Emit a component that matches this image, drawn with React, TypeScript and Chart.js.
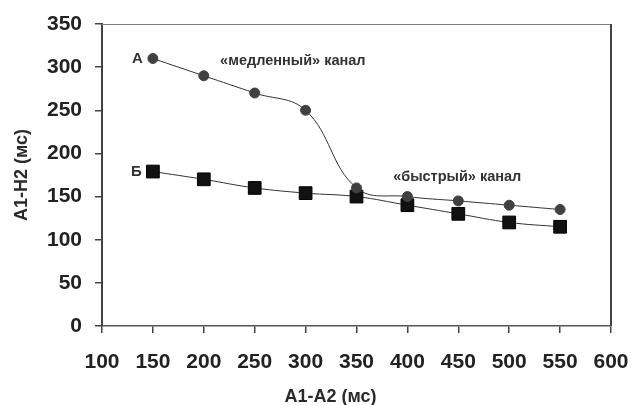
import React, { useEffect, useRef } from "react";
import { Chart, registerables } from "chart.js";

Chart.register(...registerables);

const xValues = [150, 200, 250, 300, 350, 400, 450, 500, 550];
const seriesA = [310, 290, 270, 250, 160, 150, 145, 140, 135];
const seriesB = [179, 170, 160, 154, 150, 140, 130, 120, 115];
const xTitle = "А1-А2 (мс)";
const yTitle = "А1-Н2 (мс)";
const seriesALabel = "А";
const seriesBLabel = "Б";
const slowLabel = { text: "«медленный» канал", x: 216, y: 307 };
const fastLabel = { text: "«быстрый» канал", x: 386, y: 173 };

const FONT = "'Liberation Sans', Arial, sans-serif";

const overlayPlugin = {
  id: "overlay",
  afterDraw(chart: any) {
    const { ctx, chartArea, scales } = chart;
    const xs = scales.x;
    const ys = scales.y;
    ctx.save();
    // frame top & right
    ctx.strokeStyle = "#808080";
    ctx.lineWidth = 1;
    ctx.beginPath();
    ctx.moveTo(chartArea.left, chartArea.top + 0.5);
    ctx.lineTo(chartArea.right, chartArea.top + 0.5);
    ctx.stroke();
    ctx.strokeStyle = "#444";
    ctx.lineWidth = 2;
    ctx.beginPath();
    ctx.moveTo(chartArea.right, chartArea.top);
    ctx.lineTo(chartArea.right, chartArea.bottom);
    ctx.stroke();

    // series labels
    ctx.fillStyle = "#333";
    ctx.font = `bold 15px ${FONT}`;
    ctx.textAlign = "right";
    ctx.textBaseline = "middle";
    ctx.fillText(seriesALabel, xs.getPixelForValue(xValues[0]) - 10, ys.getPixelForValue(seriesA[0]));
    ctx.fillText(seriesBLabel, xs.getPixelForValue(xValues[0]) - 11, ys.getPixelForValue(seriesB[0]));

    ctx.font = `bold 14.5px ${FONT}`;
    ctx.textAlign = "left";
    ctx.fillText(slowLabel.text, xs.getPixelForValue(slowLabel.x), ys.getPixelForValue(slowLabel.y));
    ctx.fillText(fastLabel.text, xs.getPixelForValue(fastLabel.x), ys.getPixelForValue(fastLabel.y));

    // axis titles
    ctx.fillStyle = "#2a2a2a";
    ctx.font = `bold 18px ${FONT}`;
    ctx.textAlign = "center";
    ctx.fillText(xTitle, (chartArea.left + chartArea.right) / 2 - 26, chartArea.bottom + 71);
    ctx.translate(22, (chartArea.top + chartArea.bottom) / 2);
    ctx.rotate(-Math.PI / 2);
    ctx.fillText(yTitle, 0, 0);
    ctx.restore();
  },
};

export default function App() {
  const canvasRef = useRef<HTMLCanvasElement>(null);

  useEffect(() => {
    document.body.style.margin = "0";
    const canvas = canvasRef.current;
    if (!canvas) return;
    const chart = new Chart(canvas, {
      type: "line",
      data: {
        datasets: [
          {
            label: seriesALabel,
            data: xValues.map((x, i) => ({ x, y: seriesA[i] })),
            borderColor: "#333",
            borderWidth: 1,
            backgroundColor: "#404040",
            pointBackgroundColor: "#404040",
            pointBorderColor: "#404040",
            pointStyle: "circle",
            pointRadius: 5,
            tension: 0.4,
          },
          {
            label: seriesBLabel,
            data: xValues.map((x, i) => ({ x, y: seriesB[i] })),
            borderColor: "#333",
            borderWidth: 1,
            backgroundColor: "#111",
            pointBackgroundColor: "#111",
            pointBorderColor: "#000",
            pointStyle: "rect",
            pointRadius: 9,
            tension: 0.4,
          },
        ],
      },
      options: {
        responsive: false,
        animation: false,
        layout: { padding: { top: 24, right: 20, left: 0, bottom: 0 } },
        plugins: {
          legend: { display: false },
          tooltip: { enabled: false },
        },
        scales: {
          x: {
            type: "linear",
            min: 100,
            max: 600,
            ticks: {
              stepSize: 50,
              color: "#222",
              font: { family: FONT, size: 21, weight: "bold" },
              padding: 17,
              maxRotation: 0,
            },
            grid: { drawOnChartArea: false, tickLength: 7, color: "#444", lineWidth: 1.5 },
            border: { color: "#555", width: 1.5 },
            afterFit(scale: any) {
              scale.height = 79;
              scale.paddingLeft = 0;
              scale.paddingRight = 0;
            },
          },
          y: {
            min: 0,
            max: 350,
            ticks: {
              stepSize: 50,
              color: "#222",
              font: { family: FONT, size: 21, weight: "bold" },
              padding: 13,
            },
            grid: { drawOnChartArea: false, tickLength: 7, color: "#444", lineWidth: 1.5 },
            border: { color: "#444", width: 2 },
            afterFit(scale: any) {
              scale.width = 102;
              scale.paddingTop = 0;
              scale.paddingBottom = 0;
            },
          },
        },
      },
      plugins: [overlayPlugin],
    });
    return () => chart.destroy();
  }, []);

  return (
    <div style={{ width: 631, height: 405, background: "#fff" }}>
      <canvas ref={canvasRef} width={631} height={405} />
    </div>
  );
}
